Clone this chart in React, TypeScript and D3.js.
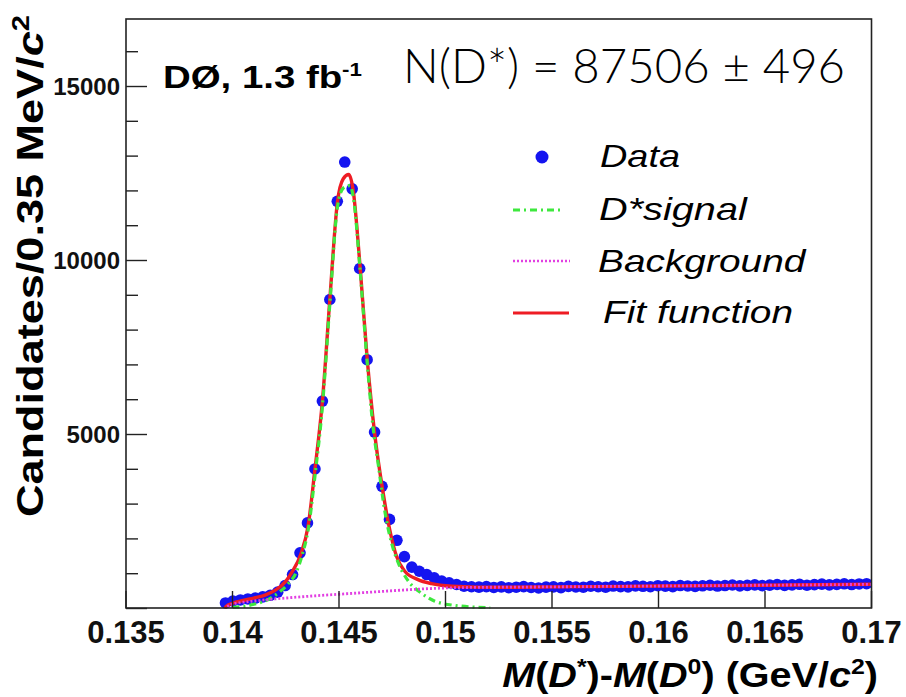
import React, { useLayoutEffect, useRef, useState } from 'react';
import * as d3 from 'd3';

const W = 906;
const H = 697;

// Histogram binning (GeV/c^2)
const BIN_START = 0.13967;
const BIN_WIDTH = 0.00035;

// Candidates per bin
const counts = [
  160, 215, 245, 275, 300, 335, 380, 470, 660, 975,
  1600, 2460, 4010, 5960, 8880, 11700, 12830, 12060, 9770, 7150,
  5070, 3510, 2560, 1960, 1490, 1190, 1070, 975, 880, 790,
  740, 690,
  640, 625, 615, 630, 605, 620, 598, 612, 628, 603,
  590, 615, 622, 600, 635, 618, 610, 640, 625, 612,
  645, 630, 620, 650, 638, 625, 655, 642, 630, 660,
  648, 635, 652, 668, 645, 660, 675, 650, 665, 680,
  658, 672, 690, 665, 678, 695, 670, 685, 700, 678,
  692, 710, 688, 705, 712,
];

// Fit function (red)
const fitCurve: [number, number][] = [
  [0.13965, 0], [0.1397, 60], [0.14, 150], [0.1405, 230], [0.141, 300],
  [0.1415, 380], [0.142, 520], [0.1425, 780], [0.1428, 1050], [0.1432, 1550],
  [0.14355, 2370], [0.14387, 4000], [0.14422, 5950], [0.14457, 8880],
  [0.14492, 11650], [0.1452, 12350], [0.14546, 12470], [0.14566, 12040],
  [0.14598, 9900], [0.14632, 7200], [0.14667, 5050], [0.14707, 3330],
  [0.14738, 2270], [0.1477, 1500], [0.14809, 1070], [0.14871, 830],
  [0.14934, 715], [0.1503, 640], [0.1515, 615], [0.153, 612],
  [0.155, 620], [0.16, 645], [0.165, 670], [0.17, 695],
];

// D* signal (green dash-dot)
const signalCurve: [number, number][] = [
  [0.14, 30], [0.141, 120], [0.1418, 300], [0.1422, 470], [0.1426, 700],
  [0.143, 1050], [0.1433, 1600], [0.14355, 2250], [0.14387, 3800],
  [0.14422, 5800], [0.14457, 8750], [0.14492, 11500], [0.1452, 12080],
  [0.14551, 12150], [0.1457, 11700], [0.14598, 9800], [0.14632, 7100],
  [0.1466, 5200], [0.14683, 4200], [0.14715, 2800], [0.14746, 1900],
  [0.14777, 1330], [0.14824, 800], [0.14887, 440], [0.1495, 210],
  [0.15043, 90], [0.1521, 20],
];

// Background (magenta dotted)
const backgroundCurve: [number, number][] = [
  [0.13975, 60], [0.14, 130], [0.1405, 180], [0.141, 215], [0.142, 275],
  [0.143, 325], [0.144, 370], [0.145, 410], [0.146, 450], [0.147, 490],
  [0.148, 530], [0.149, 565], [0.15, 590], [0.1515, 607], [0.153, 613],
  [0.155, 622], [0.16, 646], [0.165, 670], [0.17, 695],
];

const xTickValues = [0.135, 0.14, 0.145, 0.15, 0.155, 0.16, 0.165, 0.17];
const xTickLabels = ['0.135', '0.14', '0.145', '0.15', '0.155', '0.16', '0.165', '0.17'];
const yMajorTicks = [0, 5000, 10000, 15000];
const yTickLabels = ['', '5000', '10000', '15000'];
const yMinorTicks = [1000, 2000, 3000, 4000, 6000, 7000, 8000, 9000, 11000, 12000, 13000, 14000, 16000];
const legendLabels = ['Data', 'D*signal', 'Background', 'Fit function'];

const COLORS = {
  data: '#1414f0',
  fit: '#ee1c24',
  signal: '#3ee83e',
  background: '#e23fe2',
  axis: '#222',
};

const SANS = "'Liberation Sans', Arimo, Arial, Helvetica, sans-serif";

type FitTextProps = {
  x: number;
  y: number;
  width: number;
  anchor?: 'start' | 'middle' | 'end';
  rotate?: number;
  fontSize: number;
  fontWeight?: string | number;
  fontStyle?: string;
  fontFamily?: string;
  fill?: string;
  children: React.ReactNode;
};

function FitText({ x, y, width, anchor = 'start', rotate = 0, fontSize, fontWeight = 'normal', fontStyle = 'normal', fontFamily = SANS, fill = '#000', children }: FitTextProps) {
  const ref = useRef<SVGTextElement>(null);
  const [s, setS] = useState(1);
  useLayoutEffect(() => {
    const measure = () => {
      if (ref.current) {
        const w = ref.current.getBBox().width;
        if (w > 0) setS(width / w);
      }
    };
    measure();
    if ((document as any).fonts && (document as any).fonts.ready) {
      (document as any).fonts.ready.then(measure);
    }
  }, [width]);
  return (
    <text
      ref={ref}
      transform={`translate(${x},${y}) rotate(${rotate}) scale(${s},1)`}
      textAnchor={anchor}
      fontSize={fontSize}
      fontWeight={fontWeight}
      fontStyle={fontStyle}
      fontFamily={fontFamily}
      fill={fill}
    >
      {children}
    </text>
  );
}

export default function App() {
  const left = 126;
  const right = 871.5;
  const top = 19;
  const bottom = 608;

  const x = d3.scaleLinear().domain([0.135, 0.17]).range([left, right]);
  const y = d3.scaleLinear().domain([0, 16940]).range([608.5, top]);

  const line = d3
    .line<[number, number]>()
    .x((d) => x(d[0]))
    .y((d) => y(d[1]))
    .curve(d3.curveMonotoneX);

  const points = counts.map((c, i) => ({ cx: x(BIN_START + i * BIN_WIDTH), cy: y(c) }));

  return (
    <div style={{ position: 'absolute', left: 0, top: 0, width: W, height: H, background: '#fff' }}>
      <svg width={W} height={H} viewBox={`0 0 ${W} ${H}`} style={{ display: 'block' }}>
        <rect x={0} y={0} width={W} height={H} fill="#fff" />
        <defs>
          <clipPath id="plotClip">
            <rect x={left} y={top} width={right - left} height={bottom - top + 1} />
          </clipPath>
        </defs>

        {/* data points */}
        <g clipPath="url(#plotClip)">
          {points.map((p, i) => (
            <circle key={i} cx={p.cx} cy={p.cy} r={5.8} fill={COLORS.data} />
          ))}
        </g>

        {/* curves */}
        <g clipPath="url(#plotClip)" fill="none">
          <path d={line(fitCurve) || ''} stroke={COLORS.fit} strokeWidth={3.4} />
          <path d={line(signalCurve) || ''} stroke={COLORS.signal} strokeWidth={3.2} strokeDasharray="7 4 2 4" />
          <path d={line(backgroundCurve) || ''} stroke={COLORS.background} strokeWidth={2.8} strokeDasharray="2 2" />
        </g>

        {/* frame */}
        <rect x={left} y={top} width={right - left} height={bottom - top} fill="none" stroke={COLORS.axis} strokeWidth={1.6} />

        {/* y ticks */}
        {yMajorTicks.map((t, i) => (
          <g key={'ym' + i}>
            <line x1={left} x2={left + 21} y1={y(t)} y2={y(t)} stroke={COLORS.axis} strokeWidth={1.4} />
            {yTickLabels[i] && (
              <text x={120} y={y(t) + 8} textAnchor="end" fontSize={24} fontWeight="bold" fontFamily={SANS} fill="#111">
                {yTickLabels[i]}
              </text>
            )}
          </g>
        ))}
        {yMinorTicks.map((t, i) => (
          <line key={'yn' + i} x1={left} x2={left + 12} y1={y(t)} y2={y(t)} stroke={COLORS.axis} strokeWidth={1.4} />
        ))}

        {/* x ticks */}
        {xTickValues.map((t, i) => (
          <g key={'x' + i}>
            <line x1={x(t)} x2={x(t)} y1={bottom} y2={bottom - 17} stroke={COLORS.axis} strokeWidth={1.4} />
            <text x={x(t)} y={643} textAnchor="middle" fontSize={31} fontWeight="bold" fontFamily={SANS} fill="#111">
              {xTickLabels[i]}
            </text>
          </g>
        ))}

        {/* axis titles */}
        <FitText x={878} y={687} width={376} anchor="end" fontSize={35} fontWeight="bold">
          <tspan fontStyle="italic">M</tspan>(<tspan fontStyle="italic">D</tspan>
          <tspan dy={-13} fontSize={22}>*</tspan>
          <tspan dy={13}>)-</tspan>
          <tspan fontStyle="italic">M</tspan>(<tspan fontStyle="italic">D</tspan>
          <tspan dy={-13} fontSize={22}>0</tspan>
          <tspan dy={13}>) (GeV/</tspan>
          <tspan fontStyle="italic">c</tspan>
          <tspan dy={-13} fontSize={22}>2</tspan>
          <tspan dy={13}>)</tspan>
        </FitText>
        <FitText x={43} y={517} width={502} anchor="start" rotate={-90} fontSize={37} fontWeight="bold">
          Candidates/0.35 MeV/<tspan fontStyle="italic">c</tspan>
          <tspan dy={-14} fontSize={24}>2</tspan>
        </FitText>

        {/* annotations */}
        <FitText x={163} y={88} width={199} fontSize={31} fontWeight="bold">
          DØ, 1.3 fb<tspan dy={-12} fontSize={18}>-1</tspan>
        </FitText>
        <FitText x={403} y={83} width={442} fontSize={47} fontWeight={300} fontFamily="Lato, 'Open Sans', 'Noto Sans', sans-serif">
          N(D*) = 87506 ± 496
        </FitText>

        {/* legend */}
        <circle cx={542} cy={157} r={6.5} fill={COLORS.data} />
        <line x1={513} x2={563} y1={210} y2={210} stroke={COLORS.signal} strokeWidth={3} strokeDasharray="7 4 2 4" />
        <line x1={513} x2={570} y1={261} y2={261} stroke={COLORS.background} strokeWidth={2.6} strokeDasharray="2 2" />
        <line x1={513} x2={569} y1={313} y2={313} stroke={COLORS.fit} strokeWidth={3.2} />
        <FitText x={600} y={167} width={80} fontSize={31} fontStyle="italic">{legendLabels[0]}</FitText>
        <FitText x={599} y={220} width={149} fontSize={31} fontStyle="italic">{legendLabels[1]}</FitText>
        <FitText x={598} y={272} width={209} fontSize={31} fontStyle="italic">{legendLabels[2]}</FitText>
        <FitText x={603} y={323} width={190} fontSize={31} fontStyle="italic">{legendLabels[3]}</FitText>
      </svg>
    </div>
  );
}
